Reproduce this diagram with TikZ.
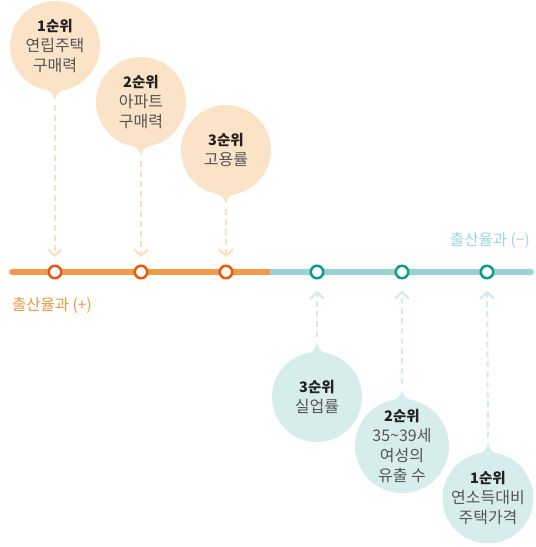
\documentclass[tikz,border=0pt]{standalone}
\usepackage{fontspec}
\setmainfont{Noto Sans CJK KR}
\usetikzlibrary{arrows.meta,calc}
\definecolor{oline}{HTML}{F4994A}
\definecolor{ostroke}{HTML}{E8590C}
\definecolor{tline}{HTML}{96D4D4}
\definecolor{tstroke}{HTML}{0B9B8E}
\definecolor{ofill}{HTML}{FAE3C6}
\definecolor{tfill}{HTML}{D7EDEB}
\definecolor{oarr}{HTML}{F8E0C3}
\definecolor{tarr}{HTML}{D3EBEB}
\definecolor{olabel}{HTML}{F09443}
\definecolor{tlabel}{HTML}{9CD6D6}
\definecolor{titlec}{HTML}{222222}
\definecolor{bodyc}{HTML}{555555}
\newcommand{\ttl}[1]{{\fontsize{14.5}{20}\selectfont\bfseries\color{titlec}#1}}
\tikzset{
  bubble/.style={circle, minimum size=90pt, inner sep=0pt, outer sep=0pt, align=center,
     text=bodyc, font=\fontsize{16}{20}\selectfont},
  obubble/.style={bubble, fill=ofill},
  tbubble/.style={bubble, fill=tfill},
  dot/.style={circle, minimum size=12.5pt, inner sep=0pt, outer sep=0pt, fill=white, line width=2.5pt},
  odot/.style={dot, draw=ostroke},
  tdot/.style={dot, draw=tstroke},
  conn/.style={line width=2pt, dash pattern=on 6pt off 4pt, -{Straight Barb[length=6.5pt,width=14pt,line width=2.2pt]}},
  oconn/.style={conn, draw=oarr, shorten >=8.5pt},
  tconn/.style={conn, draw=tarr, shorten >=12.5pt},
  lbl/.style={inner sep=0pt, font=\fontsize{15.5}{18}\selectfont}
}
\begin{document}
\begin{tikzpicture}[x=1pt,y=-1pt]
\useasboundingbox (0,0) rectangle (536,547);
% timeline
\draw[oline, line width=6pt] (12,272) -- (270,272);
\draw[tline, line width=6pt] (270,272) -- (531,272);
\fill[oline] (12,272) circle (3pt);
\fill[tline] (531,272) circle (3pt);
% bubbles (orange)
\node[obubble] (o1) at (55,46) {\ttl{1순위}\\연립주택\\구매력};
\node[obubble] (o2) at (141,102) {\ttl{2순위}\\아파트\\구매력};
\node[obubble] (o3) at (226,150) {\ttl{3순위}\\고용률};
\foreach \b in {o1,o2,o3}{
  \fill[ofill] ($(\b.south)+(-11,-2)$) .. controls ($(\b.south)+(-3,1)$) .. ($(\b.south)+(0,9)$)
     .. controls ($(\b.south)+(3,1)$) .. ($(\b.south)+(11,-2)$) -- cycle;
}
% bubbles (teal)
\node[tbubble] (t3) at (317,397) {\ttl{3순위}\\실업률};
\node[tbubble] (t2) at (402,446) {\ttl{2순위}\\35\textasciitilde39세\\여성의\\유출 수};
\node[tbubble] (t1) at (488,498) {\ttl{1순위}\\연소득대비\\주택가격};
\foreach \b in {t1,t2,t3}{
  \fill[tfill] ($(\b.north)+(-11,2)$) .. controls ($(\b.north)+(-3,-1)$) .. ($(\b.north)+(0,-9)$)
     .. controls ($(\b.north)+(3,-1)$) .. ($(\b.north)+(11,2)$) -- cycle;
}
% dots
\node[odot] (c1) at (55,272) {};
\node[odot] (c2) at (141,272) {};
\node[odot] (c3) at (226,272) {};
\node[tdot] (d1) at (317,272) {};
\node[tdot] (d2) at (402,272) {};
\node[tdot] (d3) at (487,272) {};
% connectors
\coordinate (o1s) at ($(o1.south)+(0,14)$);
\coordinate (o2s) at ($(o2.south)+(0,14)$);
\coordinate (o3s) at ($(o3.south)+(0,14)$);
\coordinate (t3s) at ($(t3.north)+(0,-15)$);
\coordinate (t2s) at ($(t2.north)+(0,-15)$);
\coordinate (t1s) at ($(t1.north)+(0,-15)$);
\draw[oconn] (o1s) -- (c1);
\draw[oconn] (o2s) -- (c2);
\draw[oconn] (o3s) -- (c3);
\draw[tconn] (t3s) -- (d1);
\draw[tconn] (t2s) -- (d2);
\draw[tconn] (t1s) -- (d3);
% labels
\node[lbl, text=tlabel, anchor=east] (lm) at (530,241) {출산율과 (−)};
\node[lbl, text=olabel, anchor=west] (lp) at (12,306) {출산율과 (+)};
\end{tikzpicture}
\end{document}
